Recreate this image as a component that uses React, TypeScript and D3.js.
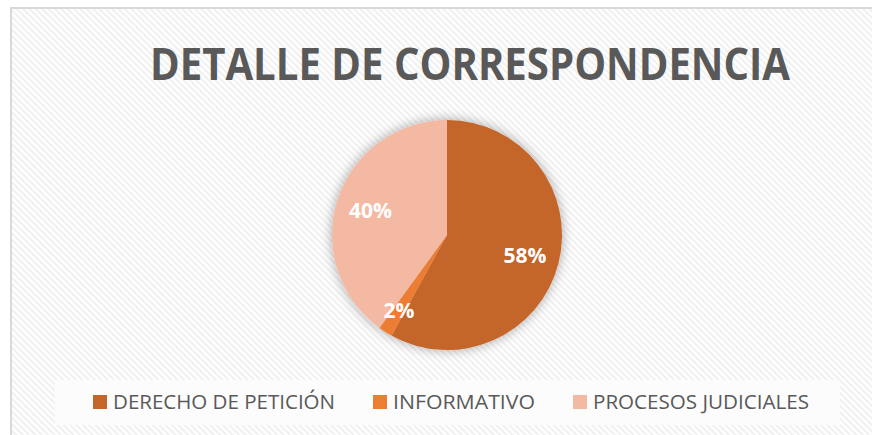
import React from 'react';
import * as d3 from 'd3';

const categories = ['DERECHO DE PETICIÓN', 'INFORMATIVO', 'PROCESOS JUDICIALES'];
const values = [58, 2, 40];
const colors = ['#C4652A', '#ED7D31', '#F4B9A3'];
const title = 'DETALLE DE CORRESPONDENCIA';

const W = 872, H = 435;
const cx = 447, cy = 235, r = 115;

// legend layout (square x, text width)
const legendX = [93, 373, 573];
const legendW = [222, 142, 216];

export default function App() {
  const pie = d3.pie<number>().sort(null).value(d => d);
  const arcs = pie(values);
  const arc = d3.arc<d3.PieArcDatum<number>>().innerRadius(0).outerRadius(r);
  const total = d3.sum(values);
  const labelArc = (d: d3.PieArcDatum<number>) => {
    const lr = d.value / total < 0.05 ? r * 0.78 : r * 0.7;
    return d3.arc<d3.PieArcDatum<number>>().innerRadius(lr).outerRadius(lr).centroid(d);
  };

  return (
    <div style={{ position: 'fixed', left: 0, top: 0 }}>
      <svg width={W} height={H} style={{ display: 'block' }}>
        <defs>
          <pattern id="hatch" width="4.5" height="4.5" patternUnits="userSpaceOnUse" patternTransform="rotate(-45)">
            <rect width="4.5" height="4.5" fill="#ffffff" />
            <rect width="2" height="4.5" fill="#f0f0f0" />
          </pattern>
          <filter id="glow" x="-30%" y="-30%" width="160%" height="160%">
            <feGaussianBlur in="SourceAlpha" stdDeviation="6" />
            <feComponentTransfer><feFuncA type="linear" slope="0.35" /></feComponentTransfer>
            <feMerge><feMergeNode /><feMergeNode in="SourceGraphic" /></feMerge>
          </filter>
        </defs>
        <rect width={W} height={H} fill="#fff" />
        <rect x={11} y={8} width={W + 20} height={H + 20} fill="url(#hatch)" stroke="#d9d9d9" strokeWidth={2} />
        <text x={470} y={80} textAnchor="middle" fontFamily="'Open Sans', sans-serif" fontWeight="bold"
          fontSize={44} fill="#595959" textLength={640} lengthAdjust="spacingAndGlyphs">{title}</text>
        <g transform={`translate(${cx},${cy})`} filter="url(#glow)">
          {arcs.map((d, i) => (
            <path key={i} d={arc(d) || ''} fill={colors[i]} />
          ))}
        </g>
        <g transform={`translate(${cx},${cy})`}>
          {arcs.map((d, i) => {
            const [x, y] = labelArc(d);
            return (
              <text key={i} x={x} y={y} dy="0.36em" textAnchor="middle" fill="#fff"
                fontFamily="'Open Sans', sans-serif" fontWeight="bold" fontSize={21}>
                {Math.round((d.value / total) * 100)}%
              </text>
            );
          })}
        </g>
        <rect x={55} y={380} width={785} height={45} fill="#fcfcfc" />
        {categories.map((c, i) => (
          <g key={c}>
            <rect x={legendX[i]} y={395} width={14} height={14} fill={colors[i]} />
            <text x={legendX[i] + 20} y={409} fontFamily="'Open Sans', sans-serif" fontSize={20}
              fill="#595959" textLength={legendW[i]} lengthAdjust="spacingAndGlyphs">{c}</text>
          </g>
        ))}
      </svg>
    </div>
  );
}
